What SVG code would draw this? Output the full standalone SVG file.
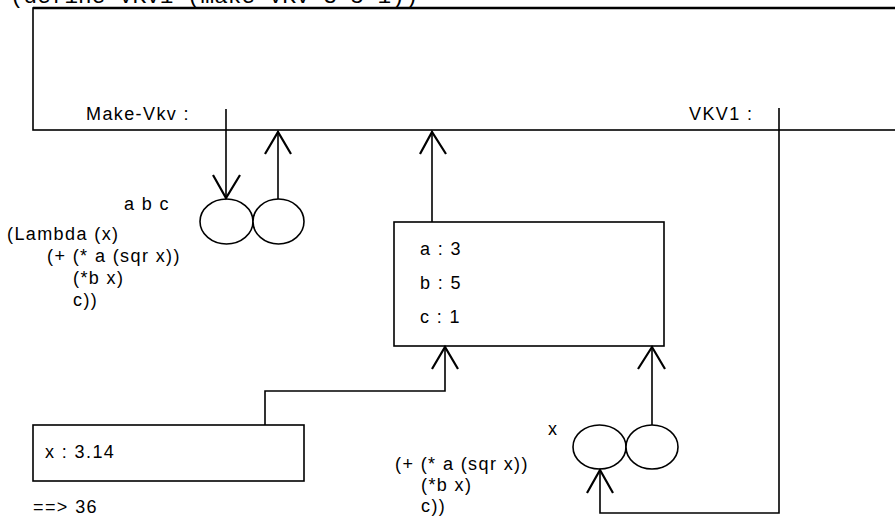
<svg xmlns="http://www.w3.org/2000/svg" width="895" height="517" viewBox="0 0 895 517">
<style>
.t{font-family:"Liberation Sans",Arial,sans-serif;font-size:18px;letter-spacing:1.4px;fill:#000}
.m{font-family:"Liberation Mono","Courier New",monospace;font-size:22.7px;fill:#000}
.s{fill:#fff;stroke:#000;stroke-width:1.6}
.c{fill:none;stroke:#000;stroke-width:1.6}
.h{fill:none;stroke:#000;stroke-width:2.2}
</style>
<rect width="895" height="517" fill="#fff"/>
<text class="m" x="10" y="3">(define VKV1 (make-VKV 3 5 1))</text>
<g id="env-global">
<rect class="s" x="33" y="8" width="900" height="122"/>
<line x1="33" y1="8" x2="895" y2="8" stroke="#000" stroke-width="2.4"/>
<text class="t" x="86" y="120">Make-Vkv :</text>
<text class="t" x="689" y="120">VKV1 :</text>
</g>
<g id="proc-make-vkv">
<ellipse class="s" cx="226.5" cy="221.5" rx="26.5" ry="22.5"/>
<ellipse class="s" cx="278.5" cy="221.5" rx="25.5" ry="22.5"/>
<text class="t" x="124" y="210">a b c</text>
<text class="t" x="7" y="240">(Lambda (x)</text>
<text class="t" x="47" y="262">(+ (* a (sqr x))</text>
<text class="t" x="73" y="284">(*b x)</text>
<text class="t" x="73" y="306">c))</text>
</g>
<g id="env-abc">
<rect class="s" x="394" y="222" width="270" height="124"/>
<text class="t" x="420" y="255">a : 3</text>
<text class="t" x="420" y="289">b : 5</text>
<text class="t" x="420" y="323">c : 1</text>
</g>
<g id="env-x">
<rect class="s" x="33" y="425" width="271" height="56"/>
<text class="t" x="45" y="458">x : 3.14</text>
</g>
<text class="t" x="33" y="513">==&gt; 36</text>
<g id="proc-vkv1">
<ellipse class="s" cx="599.5" cy="447" rx="26.5" ry="22"/>
<ellipse class="s" cx="652" cy="447" rx="26" ry="22"/>
<text class="t" x="548" y="435">x</text>
<text class="t" x="395" y="470">(+ (* a (sqr x))</text>
<text class="t" x="421" y="491">(*b x)</text>
<text class="t" x="421" y="512">c))</text>
</g>
<g id="connectors">
<line class="c" x1="226" y1="109" x2="226" y2="199"/>
<polyline class="h" points="213,175 226,198 240,175"/>
<line class="c" x1="278" y1="199" x2="278" y2="131"/>
<polyline class="h" points="265,154 278,132 291,154"/>
<line class="c" x1="432" y1="222" x2="432" y2="131"/>
<polyline class="h" points="420,154 432,132 446,154"/>
<polyline class="c" points="265,425 265,391 445,391 445,346"/>
<polyline class="h" points="432,369 445,347 458,369"/>
<line class="c" x1="652" y1="425" x2="652" y2="346"/>
<polyline class="h" points="638,369 652,347 665,369"/>
<polyline class="c" points="779,108 779,513 600,513 600,469"/>
<polyline class="h" points="587,493 600,470 613,493"/>
</g>
</svg>
